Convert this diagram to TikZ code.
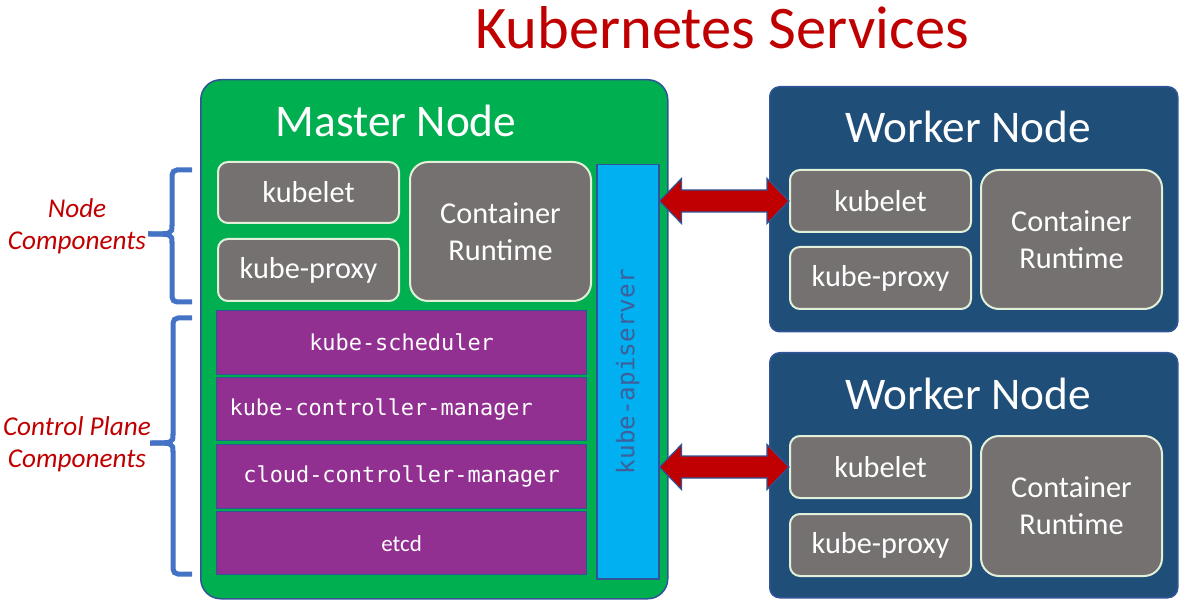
\documentclass[tikz,border=0pt]{standalone}
\usepackage{fontspec}
\setmainfont{Carlito}
\newfontfamily\codefont{DejaVu Sans Mono}
\usetikzlibrary{calc}
\definecolor{mgreen}{RGB}{0,176,80}
\definecolor{bord}{RGB}{47,85,151}
\definecolor{wblue}{RGB}{31,78,121}
\definecolor{gboxc}{RGB}{118,113,113}
\definecolor{gline}{RGB}{226,240,217}
\definecolor{purp}{RGB}{145,48,144}
\definecolor{cyanb}{RGB}{0,176,240}
\definecolor{dred}{RGB}{192,0,0}
\definecolor{bracec}{RGB}{68,114,196}
\definecolor{apitext}{RGB}{63,95,154}
\tikzset{
  masterbox/.style={draw=bord,line width=1.5pt,fill=mgreen,rounded corners=20pt,inner sep=0pt,anchor=north west},
  workerbox/.style={draw=bord,line width=1.5pt,fill=wblue,rounded corners=10pt,inner sep=0pt,anchor=north west},
  graybox/.style={draw=gline,line width=2pt,fill=gboxc,rounded corners=10pt,inner sep=0pt,anchor=north west,text=white,align=center,font=\fontsize{30.3}{37}\selectfont,minimum width=181pt},
  purplebox/.style={draw=bord,line width=1.2pt,fill=purp,inner sep=0pt,anchor=north west,text=white,font=\codefont\fontsize{21.9}{26}\selectfont,minimum width=370pt},
  apibox/.style={draw=bord,line width=1.5pt,fill=cyanb,inner sep=0pt,anchor=north west,minimum width=62pt,minimum height=414pt},
  arrowshape/.style={draw=bord,line width=1.2pt,fill=dred,line join=miter},
  titletext/.style={text=white,font=\fontsize{45.3}{50}\selectfont,inner sep=0pt},
  bracestyle/.style={draw=bracec,line width=5pt},
  sidelabel/.style={text=dred,font=\itshape\fontsize{27.2}{32}\selectfont,align=center,inner sep=0pt}
}
\begin{document}
\begin{tikzpicture}[x=1pt,y=-1pt]
\useasboundingbox (0,0) rectangle (1180,609);
% title
\node[text=dred,font=\fontsize{60.5}{66}\selectfont,inner sep=0pt] (title) at (722,28) {Kubernetes Services};
% master node
\node[masterbox,minimum width=467pt,minimum height=519pt] (master) at (200,79) {};
\node[titletext] (mtitle) at (396,121) {Master Node};
\node[graybox,minimum height=61pt] (mk) at (217,161) {kubelet};
\node[graybox,minimum height=62pt] (mp) at (217,238) {kube-proxy};
\node[graybox,minimum height=139pt,rounded corners=18pt] (mc) at (409,161) {Container\\Runtime};
\node[purplebox,minimum height=64pt] (sched) at (216,310) {kube-scheduler};
\node[purplebox,minimum height=63pt,text width=344pt,align=left] (kcm) at (216,377) {kube-controller-manager};
\node[purplebox,minimum height=64pt] (ccm) at (216,444) {cloud-controller-manager};
\node[purplebox,minimum height=63pt,font=\fontsize{23}{28}\selectfont] (etcd) at (216,511) {etcd};
\node[apibox] (api) at (596,164) {};
\node[rotate=90,text=apitext,font=\codefont\fontsize{24.3}{28}\selectfont,inner sep=0pt] (apilabel) at (api.center) {kube-apiserver};
% worker 1
\node[workerbox,minimum width=408pt,minimum height=245pt] (w1) at (769,86) {};
\node[titletext] (w1title) at (968,127) {Worker Node};
\node[graybox,minimum height=62pt] (w1k) at (789,169) {kubelet};
\node[graybox,minimum height=62pt] (w1p) at (789,246) {kube-proxy};
\node[graybox,minimum height=139pt,rounded corners=18pt] (w1c) at (980,169) {Container\\Runtime};
% worker 2
\node[workerbox,minimum width=408pt,minimum height=245pt] (w2) at (769,352) {};
\node[titletext] (w2title) at (968,394) {Worker Node};
\node[graybox,minimum height=62pt] (w2k) at (789,435) {kubelet};
\node[graybox,minimum height=62pt] (w2p) at (789,513) {kube-proxy};
\node[graybox,minimum height=140pt,rounded corners=18pt] (w2c) at (980,435) {Container\\Runtime};
% arrows
\coordinate (a1) at (api.east |- w1k.west);
\coordinate (b1) at (w1k.west);
\coordinate (a2) at (api.east |- w2k.west);
\coordinate (b2) at (w2k.west);
\draw[arrowshape] (a1) -- ++(22,-22.5) -- ++(0,11.5) -- ($(b1)+(-22,-11)$) -- ++(0,-11.5) -- (b1) -- ++(-22,22.5) -- ++(0,-11.5) -- ($(a1)+(22,11)$) -- ++(0,11.5) -- cycle;
\draw[arrowshape] (a2) -- ++(22,-22.5) -- ++(0,11.5) -- ($(b2)+(-22,-11)$) -- ++(0,-11.5) -- (b2) -- ++(-22,22.5) -- ++(0,-11.5) -- ($(a2)+(22,11)$) -- ++(0,11.5) -- cycle;
% braces
\draw[bracestyle,rounded corners=5pt] (192,170) -- (172,170) -- (172,226);
\draw[bracestyle] (172,225) .. controls (172,234) .. (148,234);
\draw[bracestyle,rounded corners=5pt] (192,302) -- (172,302) -- (172,242);
\draw[bracestyle] (172,243) .. controls (172,234) .. (148,234);
\draw[bracestyle,rounded corners=5pt] (192,318) -- (173,318) -- (173,435);
\draw[bracestyle] (173,434) .. controls (173,443) .. (150,443);
\draw[bracestyle,rounded corners=5pt] (192,574) -- (173,574) -- (173,451);
\draw[bracestyle] (173,452) .. controls (173,443) .. (150,443);
% labels
\node[sidelabel] (nclabel) at (77,226) {Node\\Components};
\node[sidelabel] (cplabel) at (77,444) {Control Plane\\Components};
\end{tikzpicture}
\end{document}
